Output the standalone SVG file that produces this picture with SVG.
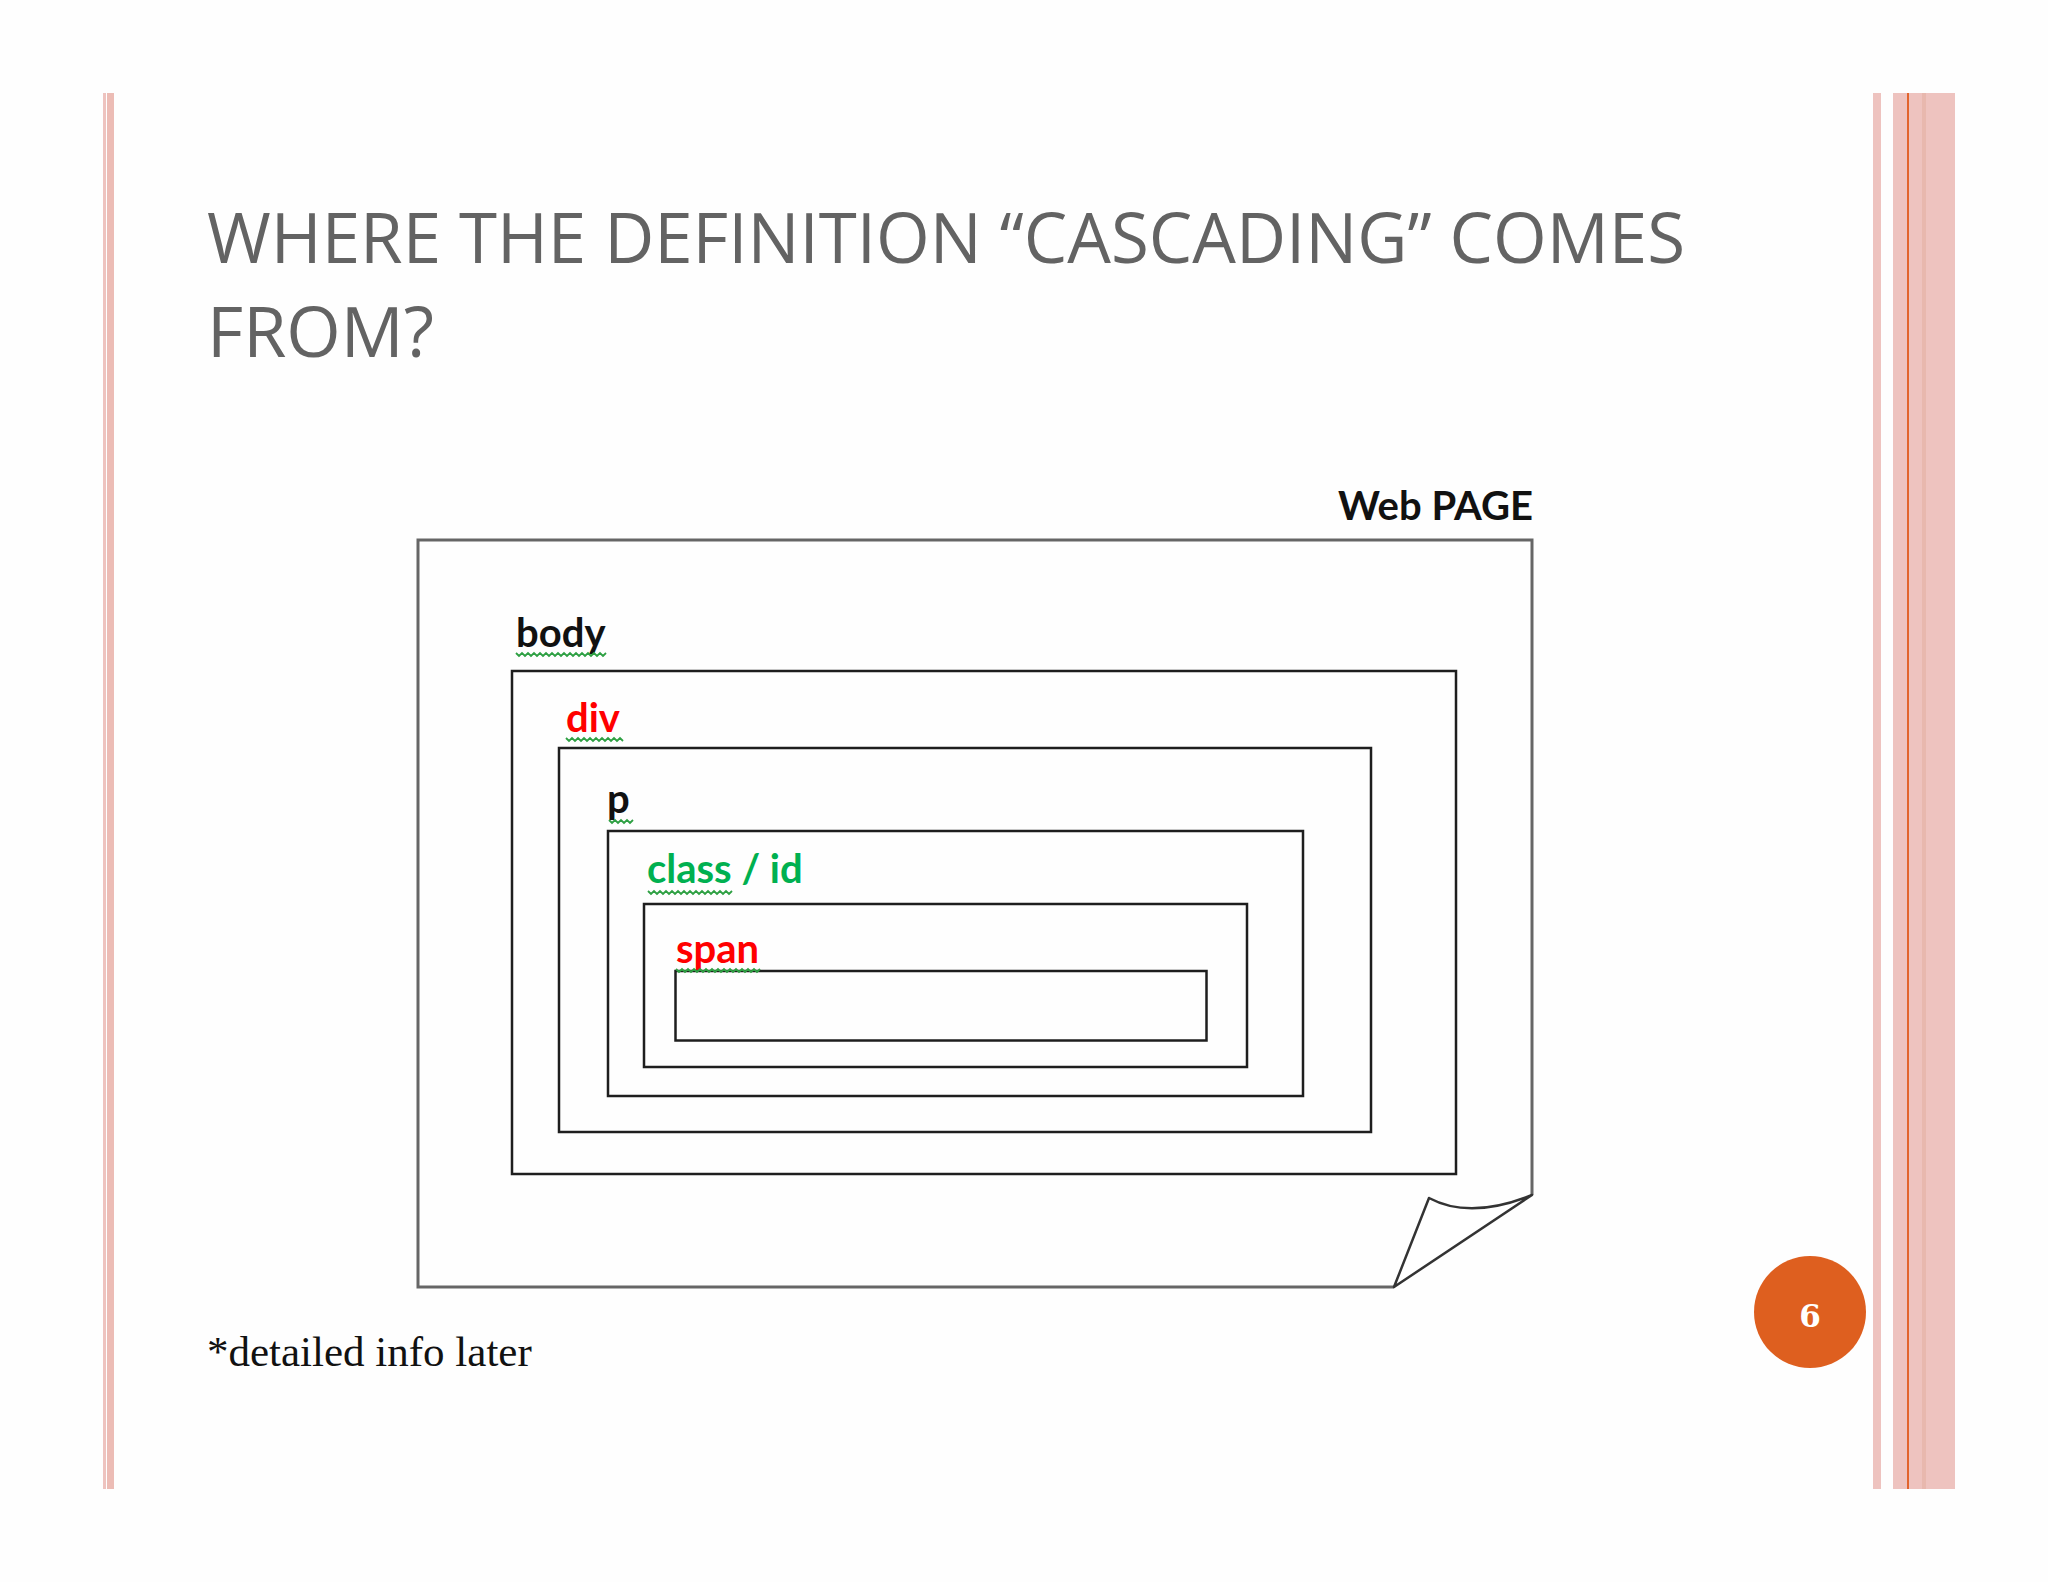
<svg xmlns="http://www.w3.org/2000/svg" width="2048" height="1582" viewBox="0 0 2048 1582">
<defs>
<style>
.title{font-family:"Open Sans","Noto Sans",sans-serif;font-size:70px;fill:#636363}
.lbl{font-family:Lato,"Liberation Sans",sans-serif;font-weight:bold;font-size:40px}
.box{fill:none;stroke:#1e1e1e;stroke-width:2.5}
.sq{fill:none;stroke:#2ea043;stroke-width:1.8}
.bar{fill:#eec3bf}
</style>
</defs>
<rect x="0" y="0" width="2048" height="1582" fill="#fefefe"/>
<g id="frame">
<rect x="103" y="93" width="3" height="1396" class="bar"/>
<rect x="107" y="93" width="7" height="1396" fill="#ecbcb5"/>
<rect x="1873" y="93" width="8" height="1396" class="bar"/>
<rect x="1893" y="93" width="62" height="1396" class="bar"/>
<rect x="1922" y="93" width="4" height="1396" fill="#e8b8ae"/>
<rect x="1907" y="93" width="2" height="1396" fill="#e2642c"/>
</g>
<g id="title">
<text class="title" x="207" y="263" textLength="1478" lengthAdjust="spacingAndGlyphs">WHERE THE DEFINITION “CASCADING” COMES</text>
<text class="title" x="207" y="357">FROM?</text>
</g>
<g id="webpage">
<path d="M1394,1287 L418,1287 L418,540 L1532,540 L1532,1195" fill="none" stroke="#666" stroke-width="3"/>
<path d="M1532,1195 L1394,1287 L1429,1198 Q1470,1220 1532,1195 Z" fill="#fff" stroke="#333" stroke-width="2.5" stroke-linejoin="round"/>
<text class="lbl" x="1338" y="520" font-size="36" fill="#111">Web PAGE</text>
</g>
<g id="body">
<rect class="box" x="512" y="671" width="944" height="503"/>
<text class="lbl" x="516" y="647" fill="#111">body</text>
<path class="sq" d="M516,653 l3,3 l3,-3 l3,3 l3,-3 l3,3 l3,-3 l3,3 l3,-3 l3,3 l3,-3 l3,3 l3,-3 l3,3 l3,-3 l3,3 l3,-3 l3,3 l3,-3 l3,3 l3,-3 l3,3 l3,-3 l3,3 l3,-3 l3,3 l3,-3 l3,3 l3,-3 l3,3 l3,-3"/>
</g>
<g id="div">
<rect class="box" x="559" y="748" width="812" height="384"/>
<text class="lbl" x="566" y="732" fill="#ff0000">div</text>
<path class="sq" d="M566,738 l3,3 l3,-3 l3,3 l3,-3 l3,3 l3,-3 l3,3 l3,-3 l3,3 l3,-3 l3,3 l3,-3 l3,3 l3,-3 l3,3 l3,-3 l3,3 l3,-3 l3,3"/>
</g>
<g id="p">
<rect class="box" x="608" y="831" width="695" height="265"/>
<text class="lbl" x="607" y="813" fill="#111">p</text>
<path class="sq" d="M609,820 l3,3 l3,-3 l3,3 l3,-3 l3,3 l3,-3 l3,3 l3,-3"/>
</g>
<g id="classid">
<rect class="box" x="644" y="904" width="603" height="163"/>
<text class="lbl" x="647" y="883" fill="#00b050">class / id</text>
<path class="sq" d="M648,891 l3,3 l3,-3 l3,3 l3,-3 l3,3 l3,-3 l3,3 l3,-3 l3,3 l3,-3 l3,3 l3,-3 l3,3 l3,-3 l3,3 l3,-3 l3,3 l3,-3 l3,3 l3,-3 l3,3 l3,-3 l3,3 l3,-3 l3,3 l3,-3 l3,3 l3,-3"/>
</g>
<g id="span">
<rect class="box" x="675.5" y="971" width="531" height="69.5"/>
<text class="lbl" x="676" y="963" fill="#ff0000">span</text>
<path class="sq" d="M676,969 l3,3 l3,-3 l3,3 l3,-3 l3,3 l3,-3 l3,3 l3,-3 l3,3 l3,-3 l3,3 l3,-3 l3,3 l3,-3 l3,3 l3,-3 l3,3 l3,-3 l3,3 l3,-3 l3,3 l3,-3 l3,3 l3,-3 l3,3 l3,-3 l3,3 l3,-3" stroke="#1f5f2a"/>
</g>
<g id="connectors"></g>
<text x="207" y="1366" font-family="'Liberation Serif',serif" font-size="43" fill="#111">*detailed info later</text>
<g id="pagenum">
<circle cx="1810" cy="1312" r="56" fill="#de5f1f"/>
<text x="1810" y="1327" text-anchor="middle" font-family="'DejaVu Serif','Liberation Serif',serif" font-weight="bold" font-size="31" fill="#fff">6</text>
</g>
</svg>
